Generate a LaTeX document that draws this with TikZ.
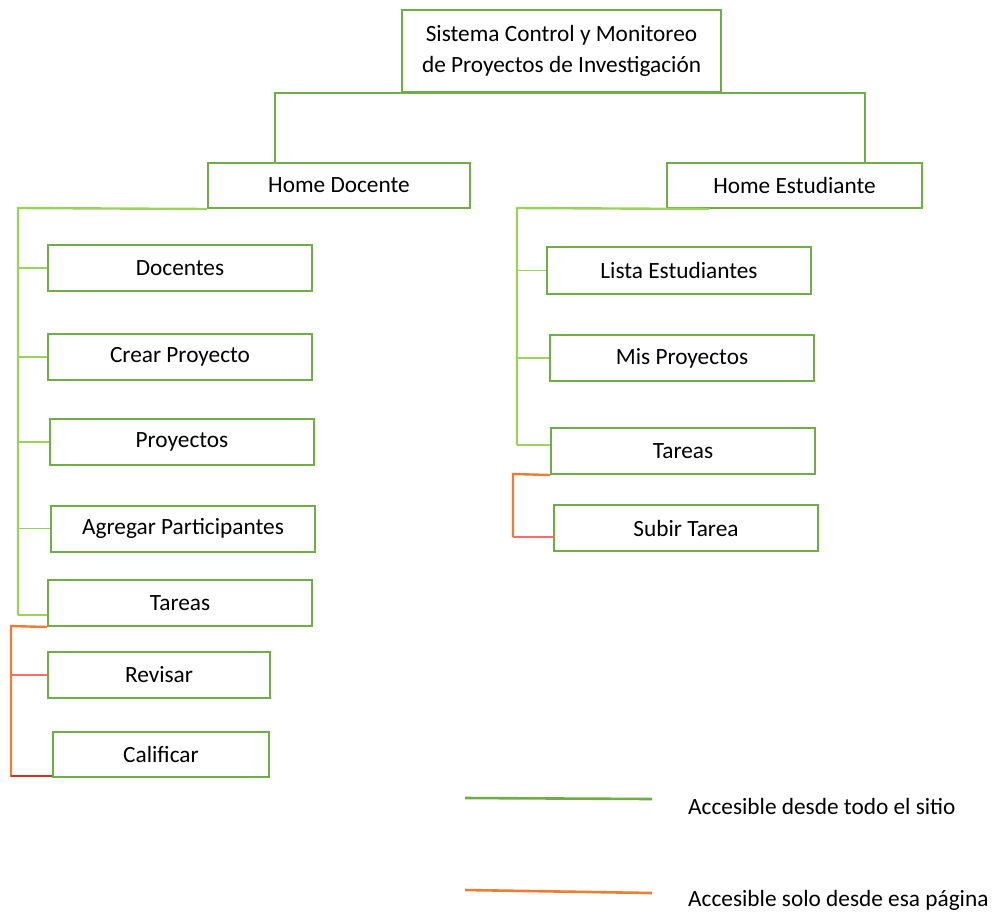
\documentclass[tikz,border=0pt]{standalone}
\usepackage{fontspec}
\setmainfont{Carlito}
\definecolor{boxgreen}{HTML}{70AD47}
\definecolor{linegreen}{HTML}{9BD35A}
\definecolor{accorange}{HTML}{ED7D31}
\definecolor{tickred}{HTML}{FF6B6B}
\definecolor{tickdark}{HTML}{C0392B}
\newcommand\pfont{\fontsize{23.3}{28}\selectfont}
\tikzset{%
  pbox/.style={draw=boxgreen,line width=2pt,fill=white,minimum width=264pt,minimum height=46pt,inner sep=2pt,font=\pfont},
  tree/.style={draw=boxgreen,line width=2pt},
  gline/.style={draw=linegreen,line width=2.4pt},
  gtick/.style={draw=linegreen,line width=1.2pt},
  oline/.style={draw=accorange,line width=2.4pt},
  rtick/.style={draw=tickred,line width=1.2pt}
}
\begin{document}
\begin{tikzpicture}[x=1pt,y=-1pt]
    \useasboundingbox (0,0) rectangle (992,914);
    % top
    \node (root)[pbox,minimum width=319pt,minimum height=82pt,align=center,font=\fontsize{23.3}{31}\selectfont] at (561.5,51) {Sistema Control y Monitoreo\\de Proyectos de Investigación};
    \node (hdoc)[pbox,minimum width=262pt,minimum height=45pt] at (339,185.5) {Home Docente};
    \node (hest)[pbox,minimum width=255pt,minimum height=45pt] at (794.5,185.5) {Home Estudiante};
    \draw[tree] ([xshift=68pt]hdoc.north west) |- (root.south) -| ([xshift=199pt]hest.north west);
    % docente
    \node (doc)[pbox] at (180,268) {Docentes};
    \node (crp)[pbox] at (180,357) {Crear Proyecto};
    \node (pro)[pbox] at (182,442) {Proyectos};
    \node (agp)[pbox] at (183,528.5) {Agregar Participantes};
    \node (tad)[pbox] at (180,603) {Tareas};
    \node (rev)[pbox,minimum width=222pt] at (159,675) {Revisar};
    \node (cal)[pbox,minimum width=216pt,minimum height=45pt] at (161,754.5) {Calificar};
    \coordinate (lt) at (18,208);
    \coordinate (lb) at (18,615);
    \draw[gline] (hdoc.south west) -- (lt) -- (lb);
    \draw[gtick] (lb) -- (lb -| tad.west);
    \foreach \n in {doc,crp,pro,agp}
      \draw[gtick] (\n.west) -- (\n.west -| lt);
    \coordinate (ot) at (11,626);
    \coordinate (ob) at (11,777);
    \draw[oline] (tad.south west) -- (ot) -- (ob);
    \draw[rtick] (rev.west) -- (rev.west -| ot);
    \draw[rtick,draw=tickdark] ([yshift=2pt]cal.south west) -- ([yshift=2pt]cal.south west -| ot);
    % estudiante
    \node (lst)[pbox,minimum height=47pt] at (679,270.5) {Lista Estudiantes};
    \node (mpr)[pbox] at (682,358) {Mis Proyectos};
    \node (tae)[pbox] at (683,451) {Tareas};
    \node (sub)[pbox] at (686,528) {Subir Tarea};
    \coordinate (rt) at (517,208);
    \coordinate (rb) at (517,445);
    \draw[gline] ([xshift=43pt]hest.south west) -- (rt) -- (rb);
    \draw[gtick] (rb) -- (rb -| tae.west);
    \foreach \n in {lst,mpr}
      \draw[gtick] (\n.west) -- (\n.west -| rt);
    \coordinate (rot) at (513,474);
    \coordinate (rob) at (513,537);
    \draw[oline] (tae.south west) -- (rot) -- (rob);
    \draw[rtick] (rob) -- (rob -| sub.west);
    % legend
    \node (lg1)[anchor=west,font=\pfont,inner sep=0pt] at (688,806) {Accesible desde todo el sitio};
    \node (lg2)[anchor=west,font=\pfont,inner sep=0pt] at (688,900) {Accesible solo desde esa página};
    \coordinate (g1a) at (465,798);
    \coordinate (g1b) at (652,799);
    \coordinate (o1a) at (465,890);
    \coordinate (o1b) at (652,893);
    \draw[tree,line width=2.6pt] (g1a) -- (g1b);
    \draw[oline,line width=2.6pt] (o1a) -- (o1b);
\end{tikzpicture}
\end{document}
